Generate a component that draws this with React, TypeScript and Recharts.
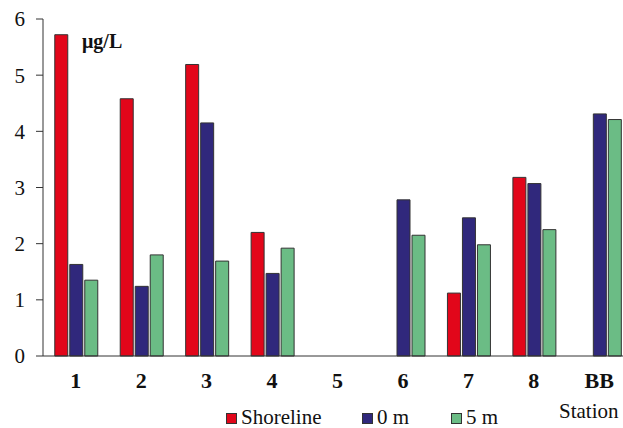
import React from 'react';
import { BarChart, Bar, XAxis, YAxis, Legend } from 'recharts';

// stations on the x axis
const stations = ['1', '2', '3', '4', '5', '6', '7', '8', 'BB'];

// concentrations in µg/L, null = not sampled
const shoreline = [5.72, 4.58, 5.19, 2.2, null, null, 1.12, 3.18, null];
const surface0m = [1.63, 1.24, 4.15, 1.47, null, 2.78, 2.46, 3.07, 4.31];
const depth5m = [1.35, 1.8, 1.69, 1.92, null, 2.15, 1.98, 2.25, 4.21];

const seriesNames = ['Shoreline', '0 m', '5 m'];
const yTicks = [0, 1, 2, 3, 4, 5, 6];
const boundaryTicks = [0, 1, 2, 3, 4, 5, 6, 7, 8, 9];

const data = stations.map((s, i) => ({
  station: s,
  shoreline: shoreline[i],
  m0: surface0m[i],
  m5: depth5m[i],
}));

const FONT = '"Liberation Serif", "Times New Roman", serif';
const AXIS = '#333';

// legend laid out like the figure
const legendLeft = [226, 362, 451];

function ChartLegend({ payload }: any) {
  const items = [...(payload || [])].sort(
    (a: any, b: any) => seriesNames.indexOf(a.value) - seriesNames.indexOf(b.value)
  );
  return (
    <div style={{ position: 'relative', width: '100%', height: 36, fontFamily: FONT, fontSize: 21, color: '#111', overflow: 'visible' }}>
      {items.map((p: any, i: number) => (
        <div key={p.value} style={{ position: 'absolute', left: legendLeft[i], top: 0, width: 110, height: 36 }}>
          <span style={{
            position: 'absolute', left: 0, top: 21, width: 9, height: 9,
            background: p.color, border: '1px solid #333',
          }} />
          <span style={{ position: 'absolute', left: 15, top: 14, lineHeight: '22px', whiteSpace: 'nowrap' }}>
            {p.value}
          </span>
        </div>
      ))}
      <span style={{ position: 'absolute', left: 559, top: 8, lineHeight: '22px', whiteSpace: 'nowrap' }}>
        Station
      </span>
    </div>
  );
}

export default function App() {
  return (
    <div style={{ position: 'fixed', left: 0, top: 0, width: 623, height: 428, overflow: 'hidden', background: '#fff' }}>
      <BarChart
        width={632}
        height={428}
        data={data}
        margin={{ top: 19, right: 0, left: 0, bottom: 0 }}
        barCategoryGap="18%"
        barGap={2}
      >
        <XAxis
          xAxisId="grid"
          type="number"
          domain={[0, 9]}
          ticks={boundaryTicks}
          tick={false}
          tickSize={6}
          tickLine={{ stroke: AXIS }}
          axisLine={false}
          height={0}
        />
        <XAxis
          dataKey="station"
          height={36}
          tickSize={0}
          tickMargin={16}
          tickLine={false}
          axisLine={{ stroke: AXIS }}
          interval={0}
          tick={{ fontFamily: FONT, fontSize: 22, fontWeight: 'bold', fill: '#111' }}
        />
        <YAxis
          width={43}
          domain={[0, 6]}
          ticks={yTicks}
          tickSize={7}
          tickMargin={11}
          axisLine={{ stroke: AXIS }}
          tickLine={{ stroke: AXIS }}
          tick={{ fontFamily: FONT, fontSize: 21, fill: '#111' }}
        />
        <Legend verticalAlign="bottom" height={36} content={<ChartLegend />} />
        <Bar dataKey="shoreline" name={seriesNames[0]} fill="#E2061A" stroke="#333" strokeWidth={1} isAnimationActive={false} />
        <Bar dataKey="m0" name={seriesNames[1]} fill="#30287C" stroke="#333" strokeWidth={1} isAnimationActive={false} />
        <Bar dataKey="m5" name={seriesNames[2]} fill="#6BBC85" stroke="#333" strokeWidth={1} isAnimationActive={false} />
      </BarChart>
      <div style={{
        position: 'absolute', left: 82, top: 31, fontFamily: FONT, fontSize: 20,
        fontWeight: 'bold', lineHeight: '20px', color: '#111',
      }}>
        μg/L
      </div>
    </div>
  );
}
